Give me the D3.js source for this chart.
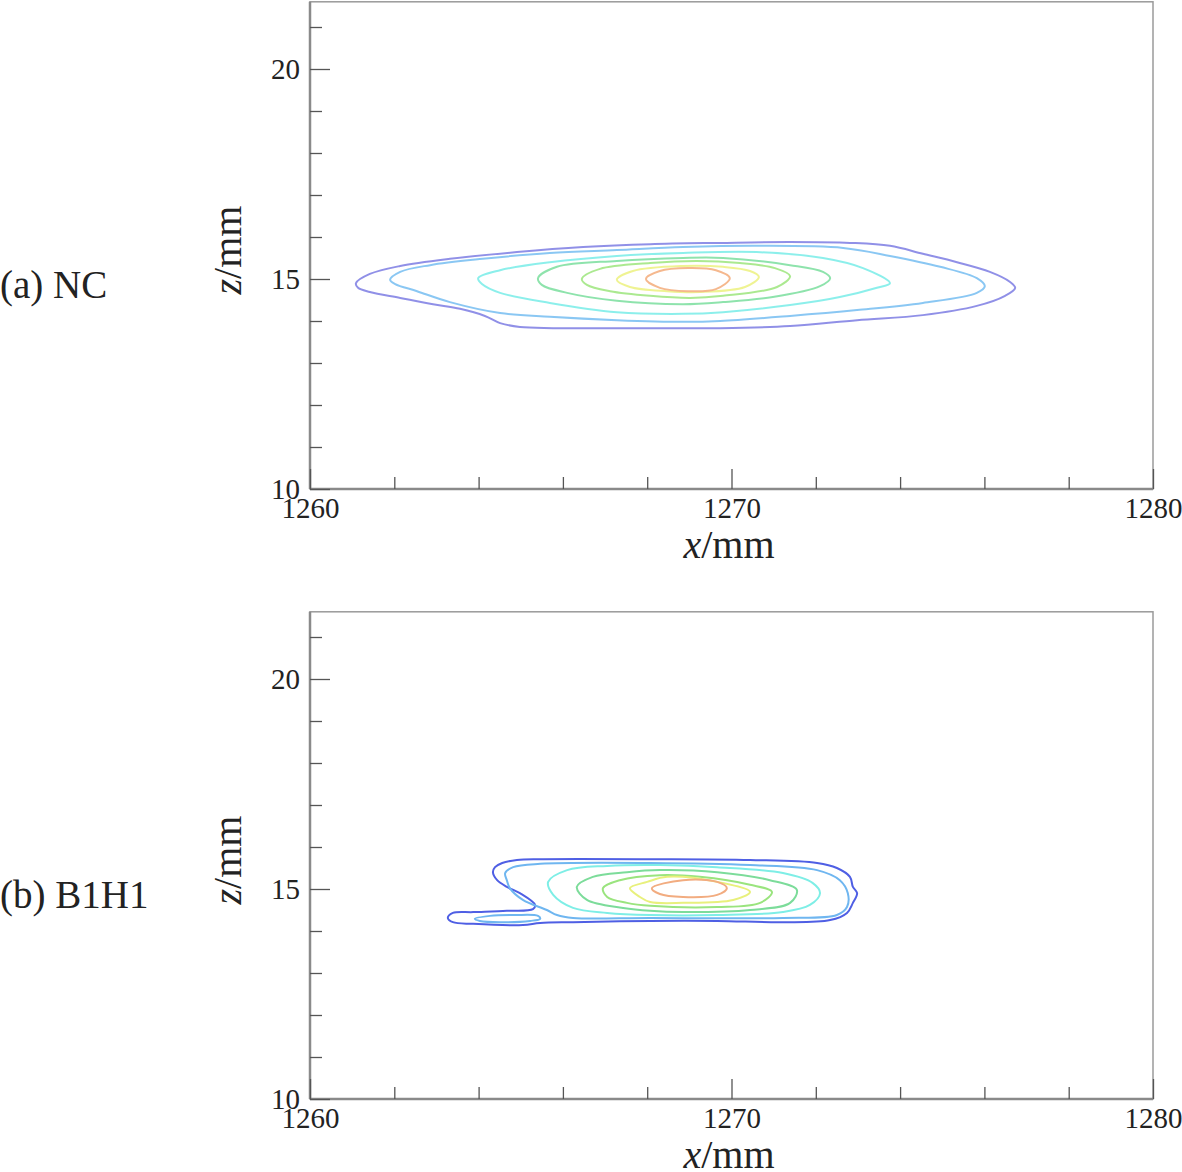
<!DOCTYPE html>
<html>
<head>
<meta charset="utf-8">
<script src="https://cdn.jsdelivr.net/npm/d3@7"></script>
<style>
  html, body { margin: 0; padding: 0; background: #fff; }
  svg { display: block; }
  text { font-family: "Liberation Serif", "Times New Roman", serif; fill: #222; }
</style>
</head>
<body>
<svg id="chart" width="1182" height="1172"></svg>
<script>
// ---------------- DATA ----------------
const panelLabels = ["(a) NC", "(b) B1H1"];
const xDomain = [1260, 1280];
const zDomain = [10, 21.6];
const xTickLabels = [1260, 1270, 1280];
const zTickLabels = [10, 15, 20];
const xMinorTicks = [1262, 1264, 1266, 1268, 1272, 1274, 1276, 1278];
const zMinorTicks = [11, 12, 13, 14, 16, 17, 18, 19, 21];

// contour levels, outer -> inner
const levelColorsNC   = ["#8a8ae6", "#84c4f2", "#86eeea", "#88e2a8", "#a6e88a", "#eef28c", "#f4b488"];
const levelColorsB1H1 = ["#4f5fe4", "#6fb6f0", "#7eeee6", "#7cdc9a", "#9ae47e", "#e8f07c", "#f2ac80"];

// (a) NC contours  [x (mm), z (mm)]
const nc1 = [[1261.09,14.90],[1261.42,15.12],[1262.14,15.31],[1263.32,15.48],[1264.91,15.64],[1266.48,15.76],[1268.07,15.83],[1269.73,15.86],[1271.39,15.88],[1272.81,15.86],[1273.76,15.79],[1274.54,15.60],[1275.35,15.40],[1276.13,15.17],[1276.61,14.93],[1276.73,14.79],[1276.49,14.60],[1275.82,14.36],[1274.54,14.14],[1272.98,14.02],[1271.39,13.88],[1269.73,13.83],[1268.07,13.83],[1264.98,13.86],[1264.51,13.95],[1264.15,14.12],[1263.56,14.29],[1262.92,14.40],[1262.14,14.55],[1261.42,14.69],[1261.14,14.79]];
const nc2 = [[1261.90,14.98],[1262.14,15.17],[1262.85,15.33],[1264.10,15.48],[1265.69,15.62],[1267.28,15.69],[1268.85,15.76],[1270.60,15.79],[1272.65,15.74],[1273.76,15.55],[1274.95,15.29],[1275.82,15.02],[1276.01,14.83],[1275.82,14.67],[1274.54,14.43],[1272.98,14.26],[1271.39,14.12],[1269.73,14.00],[1268.85,13.98],[1267.28,14.02],[1265.69,14.10],[1264.51,14.19],[1263.32,14.45],[1262.54,14.71],[1262.02,14.88]];
const nc3 = [[1263.99,15.02],[1264.51,15.21],[1265.69,15.40],[1267.28,15.55],[1268.85,15.62],[1270.60,15.64],[1272.17,15.50],[1273.12,15.26],[1273.76,14.90],[1273.45,14.79],[1272.57,14.57],[1271.39,14.38],[1269.80,14.21],[1268.85,14.17],[1267.28,14.21],[1265.69,14.43],[1264.51,14.67],[1264.08,14.88]];
const nc4 = [[1265.41,15.02],[1265.86,15.29],[1267.28,15.43],[1268.85,15.50],[1269.80,15.50],[1271.39,15.33],[1272.17,15.17],[1272.34,15.02],[1272.10,14.83],[1270.98,14.57],[1269.80,14.45],[1268.85,14.40],[1267.28,14.48],[1266.10,14.67],[1265.50,14.86]];
const nc5 = [[1266.45,15.00],[1266.88,15.24],[1268.07,15.38],[1269.18,15.43],[1270.20,15.38],[1271.03,15.26],[1271.39,15.07],[1271.08,14.81],[1269.80,14.60],[1269.02,14.55],[1268.07,14.60],[1267.12,14.71],[1266.57,14.86]];
const nc6 = [[1267.28,14.98],[1267.66,15.19],[1268.85,15.31],[1269.80,15.29],[1270.44,15.19],[1270.65,15.05],[1270.32,14.81],[1269.25,14.69],[1268.47,14.71],[1267.59,14.81]];
const nc7 = [[1267.97,15.00],[1268.30,15.19],[1268.97,15.26],[1269.63,15.21],[1269.96,15.02],[1269.63,14.76],[1268.97,14.71],[1268.30,14.79]];

// (b) B1H1 contours
const b1 = [[1264.39,15.52],[1264.56,15.62],[1264.91,15.69],[1265.46,15.71],[1268.07,15.71],[1270.44,15.69],[1272.03,15.62],[1272.50,15.50],[1272.81,15.29],[1272.88,15.05],[1272.98,14.90],[1272.88,14.67],[1272.74,14.43],[1272.34,14.26],[1271.22,14.21],[1269.66,14.24],[1268.07,14.24],[1266.24,14.21],[1265.46,14.19],[1265.05,14.14],[1263.87,14.17],[1263.39,14.21],[1263.27,14.31],[1263.39,14.43],[1263.87,14.45],[1264.67,14.48],[1265.29,14.52],[1265.34,14.62],[1264.98,14.90],[1264.67,15.05],[1264.44,15.21],[1264.34,15.40]];
const b2 = [[1264.63,15.38],[1264.82,15.52],[1265.46,15.60],[1268.07,15.62],[1270.44,15.57],[1272.03,15.45],[1272.57,15.21],[1272.76,14.90],[1272.74,14.57],[1272.50,14.38],[1271.22,14.31],[1268.07,14.31],[1266.24,14.31],[1265.86,14.38],[1265.62,14.50],[1265.05,14.74],[1264.74,15.02],[1264.67,15.21]];
const b2island = [[1263.91,14.29],[1264.27,14.36],[1264.86,14.38],[1265.41,14.36],[1265.46,14.29],[1265.22,14.24],[1264.51,14.21],[1264.03,14.24]];
const b3 = [[1265.65,15.17],[1266.10,15.45],[1267.05,15.55],[1268.30,15.57],[1269.66,15.52],[1271.22,15.38],[1271.93,15.14],[1272.10,14.90],[1271.86,14.62],[1271.22,14.45],[1269.66,14.38],[1268.07,14.38],[1267.05,14.43],[1266.24,14.55],[1265.77,14.86]];
const b4 = [[1266.33,15.05],[1266.71,15.29],[1267.52,15.40],[1268.30,15.45],[1269.66,15.40],[1270.91,15.21],[1271.55,14.98],[1271.39,14.67],[1270.44,14.50],[1268.85,14.45],[1268.07,14.48],[1267.43,14.55],[1266.57,14.74]];
const b5 = [[1266.95,15.02],[1267.35,15.21],[1268.30,15.33],[1269.25,15.29],[1270.44,15.10],[1270.96,14.93],[1270.68,14.67],[1269.66,14.57],[1268.07,14.60],[1267.52,14.67],[1267.05,14.81]];
const b6 = [[1267.59,15.02],[1268.00,15.17],[1268.47,15.29],[1269.66,15.17],[1270.44,14.93],[1270.04,14.74],[1268.85,14.67],[1268.07,14.69],[1267.83,14.81]];
const b7 = [[1268.11,15.02],[1268.85,15.21],[1269.66,15.17],[1269.89,15.02],[1269.66,14.86],[1268.85,14.81],[1268.30,14.88]];

const ncContours   = [nc1, nc2, nc3, nc4, nc5, nc6, nc7];
const ncLevels     = [0, 1, 2, 3, 4, 5, 6];
const b1h1Contours = [b1, b2, b2island, b3, b4, b5, b6, b7];
const b1h1Levels   = [0, 1, 1, 2, 3, 4, 5, 6];

// ---------------- DRAW ----------------
const svg = d3.select("#chart");
const plotLeft = 310, plotRight = 1153;

const panels = [
  { label: panelLabels[0], top: 1.8, bottom: 489, contours: ncContours, levels: ncLevels, colors: levelColorsNC, opacity: 0.95 },
  { label: panelLabels[1], top: 611.8, bottom: 1099, contours: b1h1Contours, levels: b1h1Levels, colors: levelColorsB1H1, opacity: 1 }
];

panels.forEach(p => {
  const x = d3.scaleLinear().domain(xDomain).range([plotLeft, plotRight]);
  const z = d3.scaleLinear().domain(zDomain).range([p.bottom, p.top]);
  const g = svg.append("g");

  // contours
  const line = d3.line()
    .x(d => x(d[0])).y(d => z(d[1]))
    .curve(d3.curveCatmullRomClosed.alpha(0.5));
  p.contours.forEach((c, i) => {
    g.append("path")
      .attr("d", line(c))
      .attr("fill", "none")
      .attr("stroke", p.colors[p.levels[i]])
      .attr("stroke-width", 2)
      .attr("stroke-opacity", p.opacity);
  });

  // frame
  g.append("rect")
    .attr("x", plotLeft).attr("y", p.top)
    .attr("width", plotRight - plotLeft).attr("height", p.bottom - p.top)
    .attr("fill", "none").attr("stroke", "#9a9a9a").attr("stroke-width", 1.5);
  g.append("line").attr("x1", plotLeft).attr("x2", plotLeft).attr("y1", p.top).attr("y2", p.bottom)
    .attr("stroke", "#8a8a8a").attr("stroke-width", 2.5);
  g.append("line").attr("x1", plotLeft).attr("x2", plotRight).attr("y1", p.bottom).attr("y2", p.bottom)
    .attr("stroke", "#8a8a8a").attr("stroke-width", 2.5);

  // x axis ticks (inward) and labels
  const xAxisMajor = d3.axisTop(x).tickValues(xTickLabels).tickSize(20).tickFormat("");
  const xAxisMinor = d3.axisTop(x).tickValues(xMinorTicks).tickSize(12).tickFormat("");
  [xAxisMajor, xAxisMinor].forEach(ax => {
    const a = g.append("g").attr("transform", `translate(0,${p.bottom})`).call(ax);
    a.select(".domain").remove();
    a.selectAll("line").attr("stroke", "#555").attr("stroke-width", 1.3);
  });
  const xl = g.append("g").attr("transform", `translate(0,${p.bottom})`)
    .call(d3.axisBottom(x).tickValues(xTickLabels).tickSize(0).tickPadding(8).tickFormat(d3.format("d")));
  xl.select(".domain").remove();
  xl.selectAll("text").attr("font-size", 29).attr("fill", "#222")
    .style("font-family", '"Liberation Serif", serif');

  // z axis ticks (inward) and labels
  const zAxisMajor = d3.axisRight(z).tickValues(zTickLabels).tickSize(20).tickFormat("");
  const zAxisMinor = d3.axisRight(z).tickValues(zMinorTicks).tickSize(12).tickFormat("");
  [zAxisMajor, zAxisMinor].forEach(ax => {
    const a = g.append("g").attr("transform", `translate(${plotLeft},0)`).call(ax);
    a.select(".domain").remove();
    a.selectAll("line").attr("stroke", "#555").attr("stroke-width", 1.3);
  });
  const zl = g.append("g").attr("transform", `translate(${plotLeft},0)`)
    .call(d3.axisLeft(z).tickValues(zTickLabels).tickSize(0).tickPadding(10).tickFormat(d3.format("d")));
  zl.select(".domain").remove();
  zl.selectAll("text").attr("font-size", 29).attr("fill", "#222")
    .style("font-family", '"Liberation Serif", serif');

  // axis titles
  const xt = g.append("text").attr("x", 729).attr("y", p.bottom + 69)
    .attr("text-anchor", "middle").attr("font-size", 40);
  xt.append("tspan").attr("font-style", "italic").text("x");
  xt.append("tspan").text("/mm");

  const zt = g.append("text")
    .attr("transform", `translate(241,${p.bottom - 239}) rotate(-90)`)
    .attr("text-anchor", "middle").attr("font-size", 40);
  zt.append("tspan").attr("font-style", "italic").text("z");
  zt.append("tspan").text("/mm");

  // panel label
  g.append("text").attr("x", 0).attr("y", p.bottom - 191)
    .attr("font-size", 39).text(p.label);
});
</script>
</body>
</html>
